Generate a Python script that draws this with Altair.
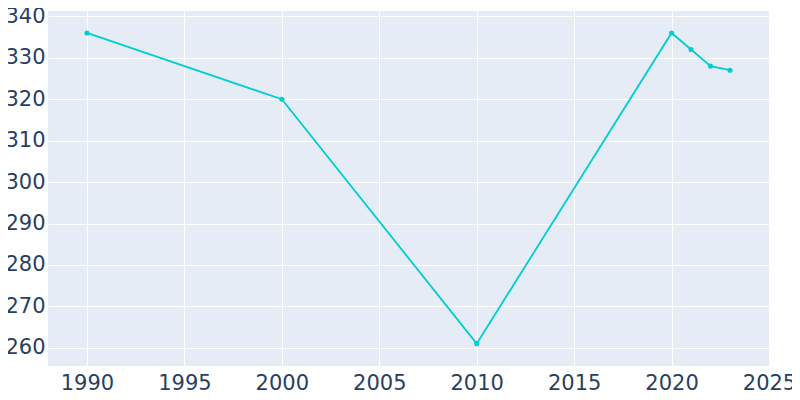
import altair as alt
import pandas as pd

years = [1990, 2000, 2010, 2020, 2021, 2022, 2023]
population = [336, 320, 261, 336, 332, 328, 327]
x_ticks = [1990, 1995, 2000, 2005, 2010, 2015, 2020, 2025]
y_ticks = [260, 270, 280, 290, 300, 310, 320, 330, 340]

df = pd.DataFrame({"year": years, "pop": population})

color = "#00CED1"
font = "DejaVu Sans"

base = alt.Chart(df).encode(
    x=alt.X("year:Q", scale=alt.Scale(domain=[1988, 2025], nice=False, zero=False),
            axis=alt.Axis(values=x_ticks, format="d", title=None, domain=False, ticks=False,
                          labelFontSize=21, labelColor="#2a3f5f", labelFont=font,
                          labelPadding=6, gridColor="white", gridWidth=1, labelFlush=False)),
    y=alt.Y("pop:Q", scale=alt.Scale(domain=[255.6, 341.3], nice=False, zero=False),
            axis=alt.Axis(values=y_ticks, title=None, domain=False, ticks=False,
                          labelFontSize=21, labelColor="#2a3f5f", labelFont=font,
                          labelPadding=3, gridColor="white", gridWidth=1)),
)

line = base.mark_line(color=color, strokeWidth=1.8)
pts = base.mark_circle(color=color, size=26, opacity=1)

chart = (line + pts).properties(
    width=721, height=355,
    autosize=alt.AutoSizeParams(type="none"),
    padding={"left": 40, "top": 3, "right": 23, "bottom": 26},
    background="white",
).configure_view(fill="#E5ECF6", strokeWidth=0)

chart.save("out.html", embed_options={"renderer": "svg", "actions": False})
